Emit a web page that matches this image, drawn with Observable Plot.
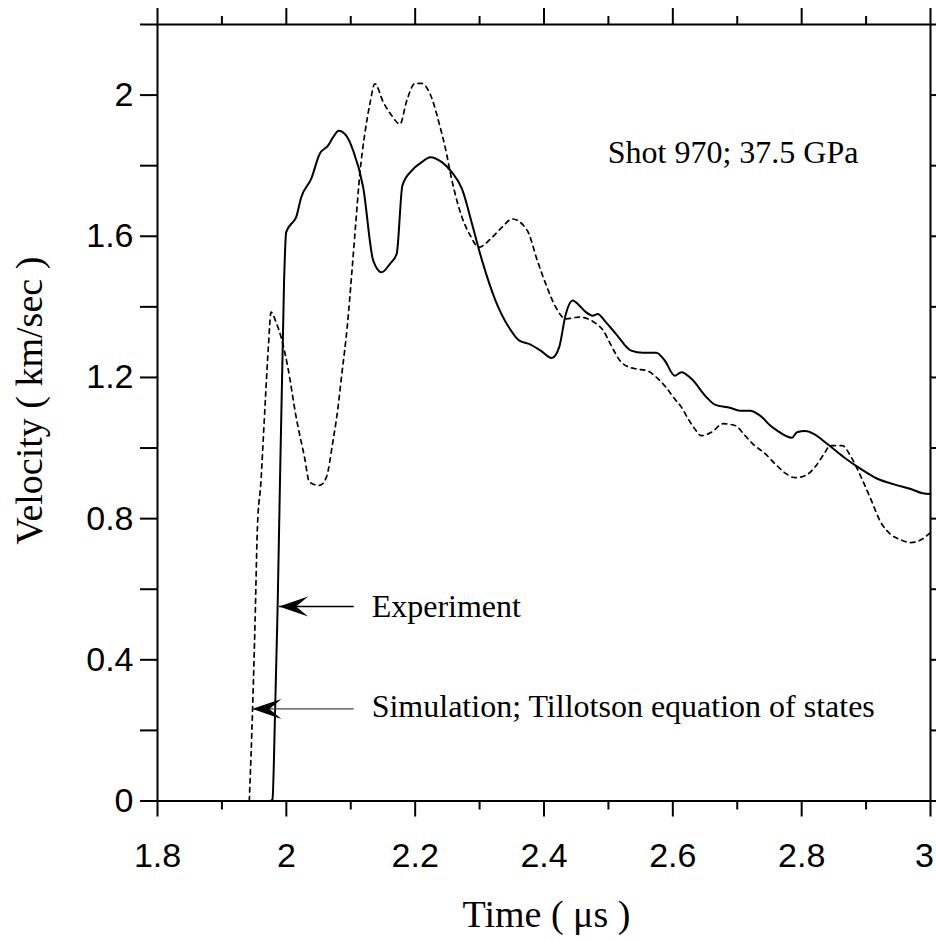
<!DOCTYPE html>
<html>
<head>
<meta charset="utf-8">
<script src="https://cdn.jsdelivr.net/npm/d3@7"></script>
<script src="https://cdn.jsdelivr.net/npm/@observablehq/plot@0.6"></script>
<style>
  html, body { margin: 0; padding: 0; background: white; }
  #chart { width: 936px; height: 940px; }
</style>
</head>
<body>
<div id="chart"></div>
<script>
// ---- Data ----
const expT = [1.976, 1.9785, 1.9825, 1.9865, 1.9965, 1.9997, 2.0075, 2.0153, 2.023, 2.0387, 2.0517, 2.0647, 2.0725, 2.0813, 2.093, 2.1037, 2.1193, 2.1349, 2.1479, 2.1609, 2.1713, 2.1802, 2.1947, 2.2103, 2.2233, 2.2415, 2.2571, 2.2727, 2.2883, 2.3039, 2.3247, 2.3455, 2.3611, 2.3767, 2.3949, 2.412, 2.4236, 2.4339, 2.4443, 2.4548, 2.4651, 2.4755, 2.4833, 2.4963, 2.5119, 2.5353, 2.5535, 2.5743, 2.5874, 2.603, 2.6133, 2.6289, 2.6523, 2.6653, 2.6887, 2.7043, 2.7199, 2.7355, 2.7512, 2.7615, 2.7849, 2.7927, 2.8058, 2.8187, 2.8395, 2.8655, 2.8916, 2.9175, 2.9435, 2.9695, 2.9876, 3.0];
const expV = [0, 0.005, 0.25, 0.55, 1.475, 1.611, 1.635, 1.654, 1.71, 1.763, 1.833, 1.857, 1.88, 1.899, 1.885, 1.843, 1.739, 1.531, 1.498, 1.522, 1.55, 1.744, 1.786, 1.81, 1.824, 1.81, 1.781, 1.734, 1.635, 1.531, 1.418, 1.342, 1.305, 1.295, 1.276, 1.255, 1.286, 1.38, 1.418, 1.404, 1.385, 1.375, 1.38, 1.356, 1.323, 1.276, 1.27, 1.27, 1.248, 1.205, 1.215, 1.196, 1.144, 1.123, 1.114, 1.106, 1.106, 1.092, 1.064, 1.05, 1.029, 1.045, 1.048, 1.04, 1.012, 0.974, 0.941, 0.913, 0.897, 0.884, 0.872, 0.87];

const simT = [1.9425, 1.9477, 1.9515, 1.955, 1.9607, 1.9649, 1.9685, 1.9721, 1.9763, 1.9841, 1.9919, 2.0023, 2.0153, 2.0282, 2.036, 2.0516, 2.0621, 2.0725, 2.0803, 2.0844, 2.0959, 2.1011, 2.1073, 2.1141, 2.1218, 2.1297, 2.1374, 2.1505, 2.1635, 2.1764, 2.1869, 2.1998, 2.2103, 2.2232, 2.2388, 2.2466, 2.2571, 2.2727, 2.2856, 2.2987, 2.3195, 2.3351, 2.3507, 2.3741, 2.3897, 2.4027, 2.4183, 2.4339, 2.4548, 2.4782, 2.4938, 2.5016, 2.5223, 2.5431, 2.5587, 2.5743, 2.5899, 2.603, 2.6133, 2.6237, 2.6342, 2.6445, 2.6601, 2.6783, 2.6965, 2.7121, 2.7251, 2.7433, 2.7589, 2.7745, 2.7901, 2.8058, 2.8214, 2.8343, 2.8448, 2.8628, 2.8769, 2.8925, 2.9071, 2.9227, 2.9372, 2.9539, 2.9696, 2.9852, 3.0];
const simV = [0, 0.266, 0.511, 0.77, 0.908, 1.05, 1.172, 1.286, 1.385, 1.356, 1.314, 1.229, 1.087, 0.974, 0.903, 0.894, 0.917, 1.021, 1.116, 1.182, 1.37, 1.484, 1.626, 1.777, 1.89, 1.975, 2.032, 1.98, 1.942, 1.918, 1.984, 2.033, 2.033, 2.003, 1.909, 1.852, 1.758, 1.654, 1.602, 1.569, 1.597, 1.626, 1.649, 1.616, 1.531, 1.465, 1.399, 1.366, 1.371, 1.356, 1.328, 1.3, 1.239, 1.224, 1.22, 1.201, 1.171, 1.139, 1.116, 1.083, 1.054, 1.035, 1.045, 1.069, 1.064, 1.035, 1.01, 0.984, 0.955, 0.929, 0.916, 0.922, 0.948, 0.982, 1.007, 1.007, 0.974, 0.917, 0.856, 0.79, 0.757, 0.74, 0.732, 0.74, 0.761];

const xTicks = [1.8, 2, 2.2, 2.4, 2.6, 2.8, 3];
const xMinor = [1.9, 2.1, 2.3, 2.5, 2.7, 2.9];
const yTicks = [0, 0.4, 0.8, 1.2, 1.6, 2];
const yMinor = [0.2, 0.6, 1.0, 1.4, 1.8, 2.2];

const xTitle = "Time ( μs )";
const yTitle = "Velocity ( km/sec )";

const noteText = ["Shot 970; 37.5 GPa", "Experiment", "Simulation; Tillotson equation of states"];
const noteX = [2.499, 2.1325, 2.1325];
const noteY = [1.836, 0.551, 0.268];

const arrowName = ["Experiment", "Simulation"];
const arrowTipX = [1.9888, 1.9474];
const arrowTipY = [0.551, 0.261];
const arrowTailX = [2.1046, 2.1046];

// ---- Tables built from the arrays ----
const expData = expT.map((t, i) => ({t, v: expV[i]}));
const simData = simT.map((t, i) => ({t, v: simV[i]}));
const notes = noteText.map((s, i) => ({s, x: noteX[i], y: noteY[i]}));
const arrows = arrowName.map((n, i) => ({n, x1: arrowTailX[i], x2: arrowTipX[i], y: arrowTipY[i]}));
const yAll = [...yTicks, ...yMinor].sort((a, b) => a - b);
const xInner = xTicks.slice(0, -1);          // labels that fit inside the page
const xLast = xTicks.slice(-1);              // the "3" at the right edge

// barbed, filled arrowhead pointing left, tip at the origin
const arrowHead = {
  draw(ctx) {
    ctx.moveTo(0, 0);
    ctx.lineTo(29, -10);
    ctx.lineTo(17, 0);
    ctx.lineTo(29, 10);
    ctx.closePath();
  }
};

const fmt = d => String(+d.toFixed(1));
const blank = () => "";
const serif = "Liberation Serif, Times New Roman, serif";

const chart = Plot.plot({
  width: 936,
  height: 940,
  marginLeft: 157,
  marginRight: 6,
  marginTop: 24,
  marginBottom: 139.5,
  x: {domain: [1.8, 3], label: null},
  y: {domain: [0, 2.2], label: null},
  style: {fontFamily: "Liberation Sans, Arial, sans-serif", fontSize: "34px", background: "white", color: "black"},
  marks: [
    // bottom axis
    Plot.axisX({anchor: "bottom", ticks: xInner, tickSize: 16, tickPadding: 26, tickFormat: fmt, strokeWidth: 2, label: null}),
    Plot.axisX({anchor: "bottom", ticks: xLast, tickSize: 16, tickFormat: blank, strokeWidth: 2, label: null}),
    Plot.axisX({anchor: "bottom", ticks: xLast, tickSize: 16, tickPadding: 26, tickFormat: fmt, strokeOpacity: 0, dx: -6, label: null}),
    Plot.axisX({anchor: "bottom", ticks: xMinor, tickSize: 9, tickFormat: blank, strokeWidth: 2, label: null}),
    // top axis
    Plot.axisX({anchor: "top", ticks: xTicks, tickSize: 17, tickFormat: blank, strokeWidth: 2, label: null}),
    Plot.axisX({anchor: "top", ticks: xMinor, tickSize: 9, tickFormat: blank, strokeWidth: 2, label: null}),
    // left axis
    Plot.axisY({anchor: "left", ticks: yTicks, tickSize: 17, tickPadding: 7, tickFormat: fmt, strokeWidth: 2, label: null}),
    Plot.axisY({anchor: "left", ticks: yMinor, tickSize: 17, tickFormat: blank, strokeWidth: 2, label: null}),
    // right axis
    Plot.axisY({anchor: "right", ticks: yAll, tickSize: 8, tickFormat: blank, strokeWidth: 2, label: null}),
    Plot.frame({stroke: "black", strokeWidth: 2}),
    // curves
    Plot.line(simData, {x: "t", y: "v", stroke: "black", strokeWidth: 1.7, strokeDasharray: "4.5,4.5", curve: "monotone-x"}),
    Plot.line(expData, {x: "t", y: "v", stroke: "black", strokeWidth: 2, curve: "monotone-x"}),
    // arrows
    Plot.link(arrows, {x1: "x1", x2: "x2", y1: "y", y2: "y", stroke: d => d.n === "Experiment" ? "black" : "#444", strokeWidth: d => d.n === "Experiment" ? 1.6 : 1.1}),
    Plot.dot(arrows, {x: "x2", y: "y", symbol: arrowHead, r: 5, fill: "black", stroke: "none"}),
    // annotations
    Plot.text(notes, {x: "x", y: "y", text: "s", textAnchor: "start", lineAnchor: "middle", fontFamily: serif, fontSize: 32, fill: "black"}),
    // axis titles
    Plot.text([xTitle], {frameAnchor: "bottom", textAnchor: "middle", lineAnchor: "middle", dx: 2.5, dy: 113.7, fontFamily: serif, fontSize: 38, fill: "black"}),
    Plot.text([yTitle], {frameAnchor: "left", rotate: -90, textAnchor: "middle", lineAnchor: "middle", dx: -127.5, dy: -12, fontFamily: serif, fontSize: 38, fill: "black"})
  ]
});

document.getElementById("chart").appendChild(chart);
</script>
</body>
</html>
